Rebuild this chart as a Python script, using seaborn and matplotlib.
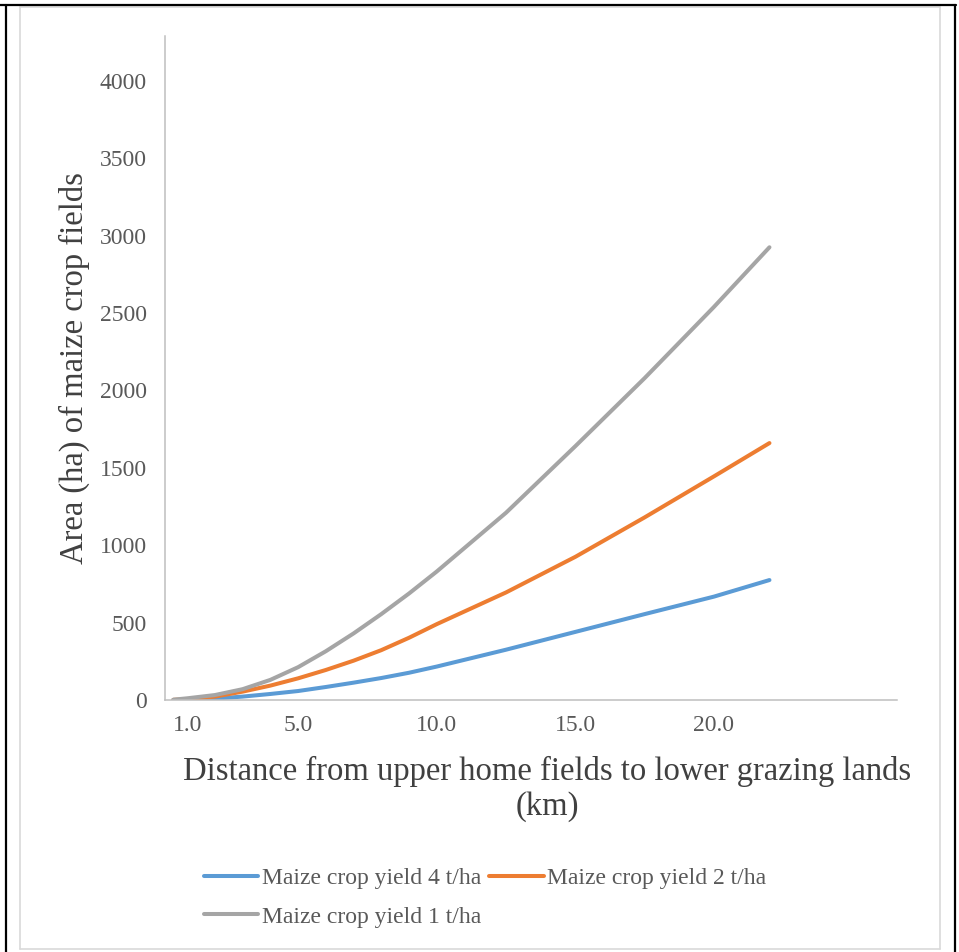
import pandas as pd
import matplotlib.pyplot as plt
import seaborn as sns
from matplotlib.lines import Line2D

# Values
distance_km = [0.5, 1, 2, 3, 4, 5, 6, 7, 8, 9, 10, 12.5, 15, 17.5, 20, 22]
area_yield_4 = [0, 1, 9, 22, 39, 58, 84, 112, 142, 176, 216, 325, 440, 555, 668, 775]
area_yield_2 = [1, 5, 22, 54, 93, 140, 194, 254, 322, 402, 490, 695, 925, 1180, 1445, 1660]
area_yield_1 = [2, 11, 32, 70, 130, 212, 315, 430, 555, 688, 830, 1210, 1640, 2080, 2540, 2925]

series_names = ['Maize crop yield 4 t/ha', 'Maize crop yield 2 t/ha', 'Maize crop yield 1 t/ha']
series_colors = ['#5B9BD5', '#ED7D31', '#A5A5A5']
x_tick_values = [1, 5, 10, 15, 20]
x_tick_labels = ['1.0', '5.0', '10.0', '15.0', '20.0']
y_tick_values = list(range(0, 4001, 500))

# Long-form table for seaborn
frames = []
for name, values in zip(series_names, [area_yield_4, area_yield_2, area_yield_1]):
    frames.append(pd.DataFrame({'Distance': distance_km, 'Area': values, 'Series': name}))
data = pd.concat(frames, ignore_index=True)

sns.set_style('white')
plt.rcParams['font.family'] = ['Liberation Serif', 'DejaVu Serif']

fig = plt.figure(figsize=(9.59, 9.52), dpi=100)
ax = fig.add_axes([165 / 959, 1 - 700 / 952, 732 / 959, 664 / 952])

sns.lineplot(data=data, x='Distance', y='Area', hue='Series', hue_order=series_names,
             palette=dict(zip(series_names, series_colors)), linewidth=2.9, ax=ax)

ax.set_xlim(0.2, 26.6)
ax.set_ylim(0, 4290)
ax.set_xticks(x_tick_values)
ax.set_xticklabels(x_tick_labels)
ax.set_yticks(y_tick_values)
ax.tick_params(axis='both', length=0, labelsize=17, labelcolor='#595959')
ax.tick_params(axis='y', pad=13)
ax.tick_params(axis='x', pad=11)

for side in ['top', 'right']:
    ax.spines[side].set_visible(False)
for side in ['left', 'bottom']:
    ax.spines[side].set_color('#BFBFBF')
    ax.spines[side].set_linewidth(1.1)

ax.set_xlabel('Distance from upper home fields to lower grazing lands\n(km)',
              fontsize=23.5, color='#404040', linespacing=1.2)
ax.xaxis.set_label_coords(0.522, -0.084)
ax.set_ylabel('Area (ha) of maize crop fields', fontsize=23.5, color='#404040')
ax.yaxis.set_label_coords(-0.102, 0.5)

# Legend: two entries on the first row, one on the second
handles, labels = ax.get_legend_handles_labels()
ax.get_legend().remove()
order = [0, 2, 1]
fig.legend([handles[i] for i in order], [labels[i] for i in order],
           loc='center', bbox_to_anchor=(0.506, 0.057), ncol=2, frameon=False,
           fontsize=17, labelcolor='#595959', handlelength=2.3, handletextpad=0.15,
           columnspacing=0.35, labelspacing=0.7)

# Chart area border and surrounding table frame
gray = '#D9D9D9'
fig.add_artist(Line2D([20 / 959, 20 / 959], [1 - 7 / 952, 1 - 949 / 952], color=gray, lw=1.2, transform=fig.transFigure))
fig.add_artist(Line2D([940 / 959, 940 / 959], [1 - 7 / 952, 1 - 949 / 952], color=gray, lw=1.2, transform=fig.transFigure))
fig.add_artist(Line2D([20 / 959, 940 / 959], [1 - 949 / 952, 1 - 949 / 952], color=gray, lw=1.2, transform=fig.transFigure))
fig.add_artist(Line2D([20 / 959, 940 / 959], [1 - 7 / 952, 1 - 7 / 952], color=gray, lw=1.2, transform=fig.transFigure))
fig.add_artist(Line2D([0, 956 / 959], [1 - 5 / 952, 1 - 5 / 952], color='black', lw=1.6, transform=fig.transFigure))
fig.add_artist(Line2D([6 / 959, 6 / 959], [1 - 5 / 952, 0], color='black', lw=1.6, transform=fig.transFigure))
fig.add_artist(Line2D([955 / 959, 955 / 959], [1 - 5 / 952, 0], color='black', lw=1.6, transform=fig.transFigure))

fig.savefig('out.png', dpi=100)
